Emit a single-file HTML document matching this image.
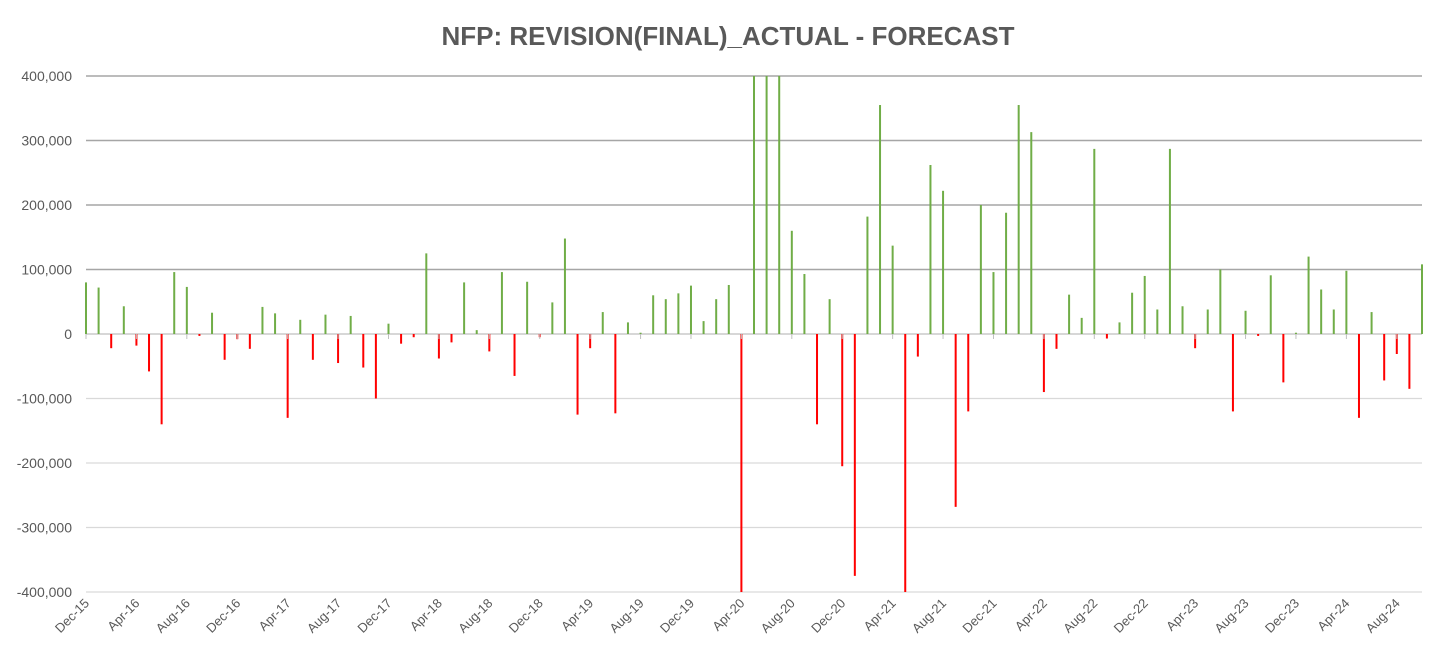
<!DOCTYPE html>
<html><head><meta charset="utf-8"><style>
html,body{margin:0;padding:0;background:#fff;}
svg{display:block;font-family:"Liberation Sans",sans-serif;}
</style></head><body>
<svg id="chart" width="1456" height="662">
<text x="728" y="45" text-anchor="middle" font-size="26" font-weight="bold" fill="#595959">NFP: REVISION(FINAL)_ACTUAL - FORECAST</text>
<g id="grid"></g><g id="bars"></g><g id="axes"></g>
</svg>
<script>
const startYear = 2015, startMonth = 11; // Dec-15
const values = [80,72,-22,43,-18,-58,-140,96,73,-3,33,-40,-8,-23,42,32,-130,22,-40,30,-45,28,-52,-100,16,-15,-5,125,-38,-13,80,6,-27,96,-65,81,-5,49,148,-125,-22,34,-123,18,2,60,54,63,75,20,54,76,-400,400,400,400,160,93,-140,54,-205,-375,182,355,137,-400,-35,262,222,-268,-120,200,96,188,355,313,-90,-23,61,25,287,-7,18,64,90,38,287,43,-22,38,100,-120,36,-3,91,-75,2,120,69,38,98,-130,34,-72,-31,-85,108];
const yTicks = [400,300,200,100,0,-100,-200,-300,-400];
const monthNames = ["Jan","Feb","Mar","Apr","May","Jun","Jul","Aug","Sep","Oct","Nov","Dec"];
const NS="http://www.w3.org/2000/svg";
const x0=86,x1=1422,yTop=76,yBot=592,vMax=400,vMin=-400;
const step=(x1-x0)/(values.length-1);
function xs(i){return x0+i*step;}
function ys(v){v=Math.max(vMin,Math.min(vMax,v));return yTop+(vMax-v)/(vMax-vMin)*(yBot-yTop);}
function mk(tag,attrs,parent){const e=document.createElementNS(NS,tag);for(const k in attrs)e.setAttribute(k,attrs[k]);parent.appendChild(e);return e;}
const grid=document.getElementById('grid'),bars=document.getElementById('bars'),axes=document.getElementById('axes');
yTicks.forEach(t=>{
  const y=ys(t);
  const l=mk('line',{x1:x0,x2:x1,y1:y,y2:y,stroke:t>0?'#a6a6a6':(t==0?'#bfbfbf':'#d9d9d9'),'stroke-width':t>0?1.5:1.2},grid);
  
  
  const tx=mk('text',{x:72,y:y+5,'text-anchor':'end','font-size':14,fill:'#595959'},axes);
  tx.textContent=t.toLocaleString('en-US')+(t?',000':'');
  if(t===0) tx.textContent='0';
  
  
});
values.forEach((v,i)=>{
  const x=xs(i),y0=ys(0),y=ys(v);
  const r=mk('rect',{x:x-1,y:Math.min(y,y0),width:2,height:Math.max(0.5,Math.abs(y-y0)),fill:v>=0?'#70ad47':'#ff0000'},bars);
  
  
});
for(let i=0;i<values.length;i+=4){
  const m=(startMonth+i)%12, yr=startYear+Math.floor((startMonth+i)/12);
  const x=xs(i);
  const tk=mk('line',{x1:x,x2:x,y1:ys(0),y2:ys(0)+5,stroke:'#bfbfbf'},axes);
  
  
  const tx=mk('text',{x:x+4,y:604,'text-anchor':'end','font-size':13,fill:'#595959',transform:`rotate(-45 ${x+4} 604)`},axes);
  tx.textContent=monthNames[m]+'-'+String(yr%100).padStart(2,'0');
  
  
}
</script>
</body></html>
